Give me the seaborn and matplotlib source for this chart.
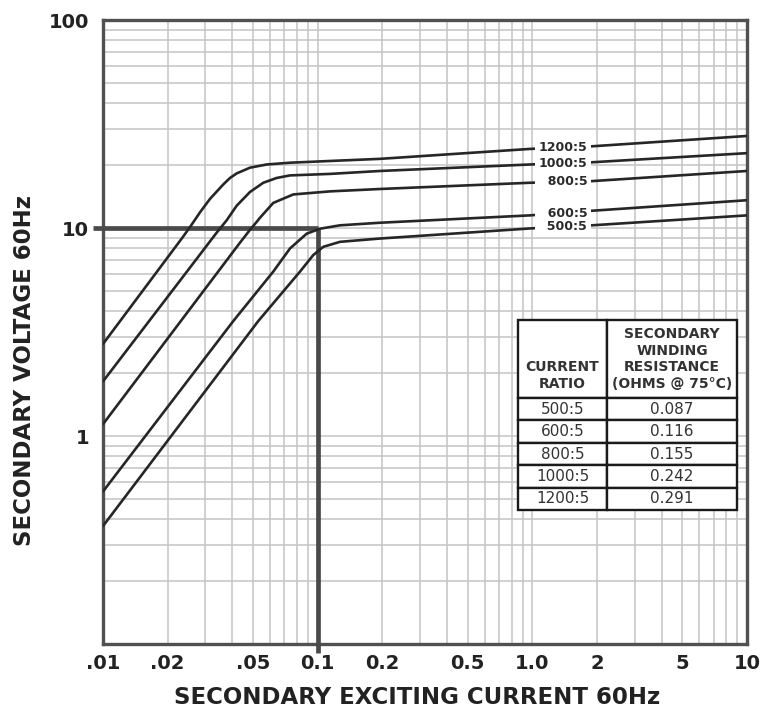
import matplotlib
matplotlib.use("Agg")
import matplotlib.pyplot as plt
from matplotlib.ticker import LogLocator, NullFormatter, FixedLocator, FixedFormatter
import numpy as np
import pandas as pd
import seaborn as sns

# ---- data ----
ratio_labels = ["1200:5", "1000:5", "800:5", "600:5", "500:5"]

current_1200 = [0.01, 0.02327, 0.02542, 0.02831, 0.0315, 0.03634, 0.03905, 0.04195,
                0.04839, 0.05787, 0.0743, 0.1141, 0.1951, 0.9745, 1.889, 10]
voltage_1200 = [2.77, 8.9, 10.1, 11.9, 13.8, 16.2, 17.4, 18.3,
                19.5, 20.2, 20.6, 21.0, 21.5, 24.0, 24.7, 27.7]

current_1000 = [0.01, 0.03385, 0.0377, 0.04195, 0.04839, 0.0558, 0.06442, 0.0743,
                0.1141, 0.1951, 0.9745, 1.889, 10]
voltage_1000 = [1.83, 9.5, 10.9, 12.8, 14.9, 16.5, 17.4, 17.9,
                18.2, 18.8, 20.2, 20.7, 22.9]

current_800 = [0.01, 0.04346, 0.04839, 0.05198, 0.05385, 0.0621, 0.07697, 0.1141,
               0.1951, 0.9745, 1.889, 10]
voltage_800 = [1.14, 8.5, 9.8, 10.7, 11.2, 13.2, 14.5, 15.0,
               15.4, 16.5, 16.8, 18.8]

current_600 = [0.01, 0.04045, 0.0621, 0.0743, 0.08886, 0.1025, 0.127, 0.1951,
               0.9745, 1.889, 10]
voltage_600 = [0.541, 3.57, 6.17, 7.97, 9.39, 9.92, 10.3, 10.6,
               11.5, 12.1, 13.6]

current_500 = [0.01, 0.05288, 0.08272, 0.09539, 0.1062, 0.127, 0.1951, 0.9745,
               1.889, 10]
voltage_500 = [0.369, 3.57, 6.17, 7.41, 8.12, 8.58, 8.9, 9.95,
               10.3, 11.5]

table_ratios = ["500:5", "600:5", "800:5", "1000:5", "1200:5"]
table_resistance = ["0.087", "0.116", "0.155", "0.242", "0.291"]

x_ticks = [0.01, 0.02, 0.05, 0.1, 0.2, 0.5, 1, 2, 5, 10]
x_tick_labels = [".01", ".02", ".05", "0.1", "0.2", "0.5", "1.0", "2", "5", "10"]
y_ticks = [1, 10, 100]
y_tick_labels = ["1", "10", "100"]

ref_current = 0.1
ref_voltage = 10

label_anchor_current = 1.37   # where curve labels sit
label_right_current = 1.8     # right edge of the labels

curves = [
    ("1200:5", current_1200, voltage_1200),
    ("1000:5", current_1000, voltage_1000),
    ("800:5", current_800, voltage_800),
    ("600:5", current_600, voltage_600),
    ("500:5", current_500, voltage_500),
]

frames = [pd.DataFrame({"current": xs, "voltage": ys, "ratio": lab}) for lab, xs, ys in curves]
df = pd.concat(frames, ignore_index=True)

# ---- style ----
sns.set_theme(style="white")
plt.rcParams["font.family"] = ["DejaVu Sans"]

fig = plt.figure(figsize=(7.62, 7.14), dpi=100)
fig.patch.set_facecolor("white")
ax = fig.add_axes([103 / 762, 1 - 644 / 714, 644 / 762, 624 / 714])

sns.lineplot(data=df, x="current", y="voltage", hue="ratio", hue_order=ratio_labels,
             palette=["#262626"] * 5, estimator=None, sort=False, linewidth=1.9,
             legend=False, ax=ax, zorder=4)

ax.set_xscale("log")
ax.set_yscale("log")
ax.set_xlim(0.01, 10)
ax.set_ylim(0.1, 100)

# grid
ax.xaxis.set_minor_locator(LogLocator(base=10, subs=np.arange(2, 10)))
ax.yaxis.set_minor_locator(LogLocator(base=10, subs=np.arange(2, 10)))
ax.xaxis.set_minor_formatter(NullFormatter())
ax.yaxis.set_minor_formatter(NullFormatter())
ax.xaxis.set_major_locator(FixedLocator(x_ticks))
ax.xaxis.set_major_formatter(FixedFormatter(x_tick_labels))
ax.yaxis.set_major_locator(FixedLocator(y_ticks))
ax.yaxis.set_major_formatter(FixedFormatter(y_tick_labels))
ax.grid(True, which="both", color="#c4c4c4", linewidth=1.1)
ax.set_axisbelow(True)

ax.tick_params(which="both", length=0)
ax.tick_params(axis="x", pad=7, labelsize=14, labelcolor="#222222")
ax.tick_params(axis="y", pad=10, labelsize=14, labelcolor="#222222")
for lbl in ax.get_xticklabels() + ax.get_yticklabels():
    lbl.set_fontweight("bold")

for s in ax.spines.values():
    s.set_color("#505050")
    s.set_linewidth(2.4)

ax.set_xlabel("")
ax.set_ylabel("")

# reference lines at 0.1 A / 10 V
to_axes = ax.transData + ax.transAxes.inverted()
cx, cy = to_axes.transform((ref_current, ref_voltage))
ax.plot([-0.016, cx], [cy, cy], transform=ax.transAxes, color="#4a4a4a", lw=3.4,
        clip_on=False, solid_capstyle="butt", zorder=3)
ax.plot([cx, cx], [cy, -0.014], transform=ax.transAxes, color="#4a4a4a", lw=3.4,
        clip_on=False, solid_capstyle="butt", zorder=3)

# curve labels
for lab, xs, ys in curves:
    ly = 10 ** np.interp(np.log10(label_anchor_current), np.log10(xs), np.log10(ys))
    shown = lab if len(lab) == 6 else "  " + lab
    ax.text(label_right_current, ly, shown, ha="right", va="center", fontsize=9,
            fontweight="bold", color="#2a2a2a",
            bbox=dict(boxstyle="square,pad=0.3", fc="white", ec="none"), zorder=6)

# table
cell_text = [["\n\nCURRENT\nRATIO", "SECONDARY\nWINDING\nRESISTANCE\n(OHMS @ 75°C)"]]
cell_text += [[r, v] for r, v in zip(table_ratios, table_resistance)]
tbl = ax.table(cellText=cell_text, colWidths=[89, 130],
               bbox=[(518 - 103) / 644, (644 - 510) / 624, (737 - 518) / 644, (510 - 320) / 624],
               cellLoc="center", zorder=7)
tbl.auto_set_font_size(False)
for (r, c), cell in tbl.get_celld().items():
    cell.set_edgecolor("#1a1a1a")
    cell.set_linewidth(1.7)
    cell.set_facecolor("white")
    cell.set_height(78 if r == 0 else 22.4)
    t = cell.get_text()
    t.set_color("#333333")
    if r == 0:
        t.set_fontsize(10)
        t.set_fontweight("bold")
        t.set_linespacing(1.25)
    else:
        t.set_fontsize(11)

# axis titles
fig.text(417 / 762, 1 - 697 / 714, "SECONDARY EXCITING CURRENT 60Hz", ha="center",
         va="center", fontsize=16.5, fontweight="bold", color="#222222")
fig.text(25 / 762, 1 - 370 / 714, "SECONDARY VOLTAGE 60Hz", ha="center", va="center",
         rotation=90, fontsize=16.5, fontweight="bold", color="#222222")

fig.savefig("out.png", dpi=100, facecolor="white")
